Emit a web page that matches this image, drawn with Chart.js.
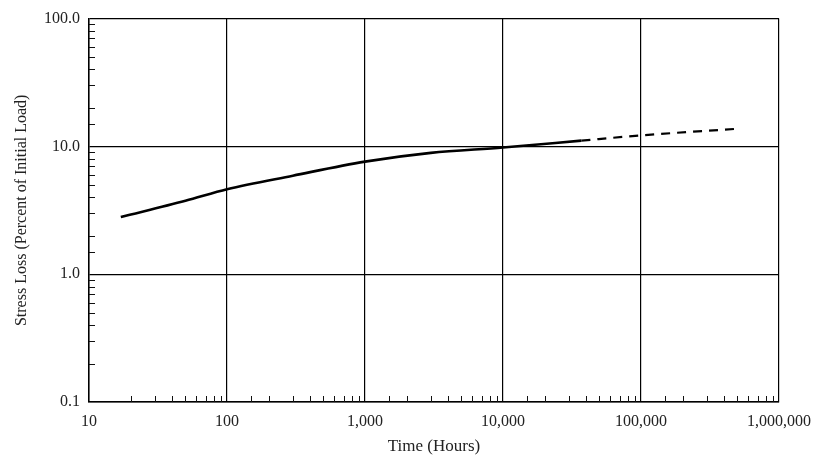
<!DOCTYPE html>
<html>
<head>
<meta charset="utf-8">
<script src="https://cdn.jsdelivr.net/npm/chart.js@4/dist/chart.umd.min.js"></script>
<style>
    html, body { margin: 0; padding: 0; background: #fff; }
    #wrap { width: 819px; height: 461px; position: relative; }
</style>
</head>
<body>
<div id="wrap"><canvas id="lossChart"></canvas></div>
<script>
// Measured stress loss (solid) and extrapolated part (dashed)
const measuredHours = [17, 50, 100, 300, 1000, 3000, 10000, 37000];
const measuredLoss = [2.8, 3.75, 4.62, 5.9, 7.6, 8.9, 9.8, 11.1];
const projectedHours = [37000, 100000, 480000];
const projectedLoss = [11.1, 12.2, 13.7];

const xRange = [10, 1000000];
const yRange = [0.1, 100];

const serif = "'Liberation Serif', 'DejaVu Serif', serif";

function isDecade(v) {
    const l = Math.log10(v);
    return Math.abs(l - Math.round(l)) < 1e-6;
}

function toPoints(xs, ys) {
    return xs.map((x, i) => ({ x: x, y: ys[i] }));
}

// small minor tick marks drawn inside the plot frame
const innerTicks = {
    id: 'innerTicks',
    afterDatasetsDraw(chart) {
        const c = chart.ctx;
        const area = chart.chartArea;
        c.save();
        c.strokeStyle = '#111';
        c.lineWidth = 1;
        chart.scales.x.ticks.forEach(t => {
            if (isDecade(t.value)) return;
            const px = Math.round(chart.scales.x.getPixelForValue(t.value)) + 0.5;
            c.beginPath();
            c.moveTo(px, area.bottom);
            c.lineTo(px, area.bottom - 6);
            c.stroke();
        });
        chart.scales.y.ticks.forEach(t => {
            if (isDecade(t.value)) return;
            const py = Math.round(chart.scales.y.getPixelForValue(t.value)) + 0.5;
            c.beginPath();
            c.moveTo(area.left, py);
            c.lineTo(area.left + 6, py);
            c.stroke();
        });
        c.restore();
    }
};

new Chart(document.getElementById('lossChart'), {
    type: 'line',
    data: {
        datasets: [{
            data: toPoints(measuredHours, measuredLoss),
            borderColor: '#000',
            borderWidth: 2.6,
            pointRadius: 0,
            cubicInterpolationMode: 'monotone',
            fill: false
        }, {
            data: toPoints(projectedHours, projectedLoss),
            borderColor: '#000',
            borderWidth: 2.2,
            borderDash: [9, 7],
            pointRadius: 0,
            cubicInterpolationMode: 'monotone',
            fill: false
        }]
    },
    options: {
        responsive: true,
        maintainAspectRatio: false,
        animation: false,
        layout: { padding: { top: 17, right: 40, left: 8, bottom: 0 } },
        plugins: {
            legend: { display: false },
            tooltip: { enabled: false }
        },
        scales: {
            x: {
                type: 'logarithmic',
                min: xRange[0],
                max: xRange[1],
                afterFit: s => { s.height = 59; s.paddingRight = 0; s.paddingLeft = 0; },
                border: { color: '#000', width: 1.5 },
                grid: {
                    drawTicks: false,
                    color: c => (c.tick && isDecade(c.tick.value)) ? '#000' : 'rgba(0,0,0,0)',
                    lineWidth: 1.2
                },
                ticks: {
                    autoSkip: false,
                    maxRotation: 0,
                    padding: 10,
                    color: '#222',
                    font: { family: serif, size: 16 },
                    callback: v => isDecade(v) ? Number(v).toLocaleString('en-US') : ''
                },
                title: {
                    display: true,
                    text: 'Time (Hours)',
                    color: '#222',
                    font: { family: serif, size: 17 },
                    padding: { top: 1 }
                }
            },
            y: {
                type: 'logarithmic',
                min: yRange[0],
                max: yRange[1],
                afterFit: s => { s.width = 81; },
                border: { color: '#000', width: 1.5 },
                grid: {
                    drawTicks: false,
                    color: c => (c.tick && isDecade(c.tick.value)) ? '#000' : 'rgba(0,0,0,0)',
                    lineWidth: 1.2
                },
                ticks: {
                    autoSkip: false,
                    padding: 9,
                    color: '#222',
                    font: { family: serif, size: 16 },
                    callback: v => isDecade(v) ? Number(v).toFixed(1) : ''
                },
                title: {
                    display: true,
                    text: 'Stress Loss (Percent of Initial Load)',
                    color: '#222',
                    font: { family: serif, size: 16 },
                    padding: { bottom: 2 }
                }
            }
        }
    },
    plugins: [innerTicks]
});
</script>
</body>
</html>
